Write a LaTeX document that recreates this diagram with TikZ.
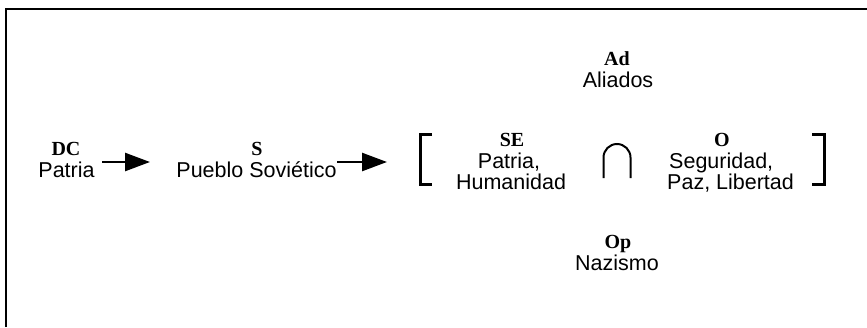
\documentclass[tikz,border=0pt]{standalone}
\usepackage{fontspec}
\setmainfont{Liberation Sans}
\newfontfamily\tagfont{Liberation Serif}
\usetikzlibrary{arrows.meta}

\tikzset{
  word/.style={inner sep=0pt, anchor=base, font=\fontsize{21.5}{24}\selectfont},
  tag/.style={inner sep=0pt, anchor=base, font=\tagfont\fontsize{20}{22}\selectfont\bfseries},
  flow/.style={line width=2.5pt, -{Triangle[length=25pt,width=18pt]}},
  brk/.style={line width=3pt},
}

\begin{document}
\begin{tikzpicture}[x=1pt,y=-1pt]
  \useasboundingbox (0,0) rectangle (867,327);
  % frame, only top and left edges
  \draw[line width=2pt] (6,327) -- (6,9) -- (867,9);

  % sender and subject
  \node[tag]  (dc)     at (66,155) {DC};
  \node[word] (patria) at (66.5,177) {Patria};
  \node[tag]  (s)      at (257,155) {S};
  \node[word] (pueblo) at (256.5,177) {Pueblo Soviético};

  % object pair in brackets
  \node[tag]  (se)  at (512,146) {SE};
  \node[word] (se1) at (509,168) {Patria,};
  \node[word] (se2) at (511,189) {Humanidad};
  \node[tag]  (o)   at (722,146) {O};
  \node[word,anchor=base west] (o1) at (669,168) {Seguridad,};
  \node[word,anchor=base west] (o2) at (667,189) {Paz, Libertad};

  % helper and opponent
  \node[tag]  (ad)      at (617,65) {Ad};
  \node[word] (aliados) at (618,87) {Aliados};
  \node[tag]  (op)      at (618,248) {Op};
  \node[word] (nazismo) at (617,270) {Nazismo};

  % brackets and intersection sign
  \draw[brk] (432,134) -| (420,184) -- (432,184);
  \draw[brk] (812,134) -| (824,184) -- (812,184);
  \draw[line width=2pt] (603.5,178) -- (603.5,157.5)
    arc[start angle=180, end angle=360, radius=13.5] -- (630.5,178);

  % arrows
  \coordinate (a1s) at (102,162);
  \coordinate (a1e) at (150,162);
  \coordinate (a2s) at (337,162);
  \coordinate (a2e) at (387,162);
  \draw[flow] (a1s) -- (a1e);
  \draw[flow] (a2s) -- (a2e);
\end{tikzpicture}
\end{document}
